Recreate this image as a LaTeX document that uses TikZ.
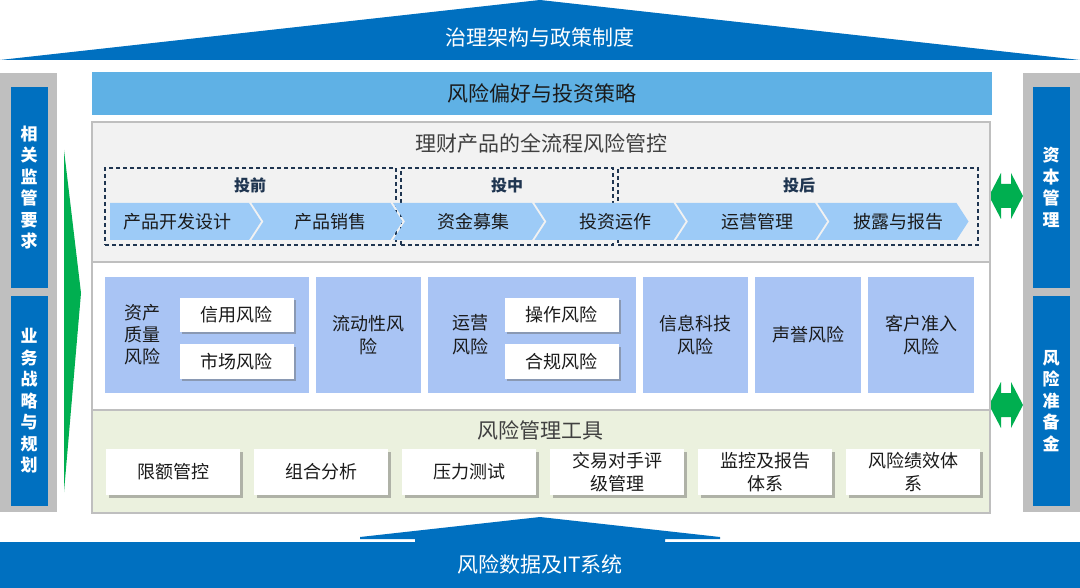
\documentclass[tikz,border=0pt]{standalone}
\usepackage{fontspec}
\setmainfont{Noto Sans CJK SC}
\usetikzlibrary{shadows}
\definecolor{dblue}{HTML}{0070C0}
\definecolor{lblue}{HTML}{5FB1E5}
\definecolor{colgray}{HTML}{BFBFBF}
\definecolor{chev}{HTML}{9DCBF7}
\definecolor{riskc}{HTML}{A9C4F4}
\definecolor{toolbg}{HTML}{EBF1DE}
\definecolor{secbg}{HTML}{F2F2F2}
\definecolor{grn}{HTML}{00AF50}
\definecolor{navy}{HTML}{1F3550}
\definecolor{txtgray}{HTML}{404040}
\definecolor{txtdark}{HTML}{1A1A1A}
\begin{document}
\begin{tikzpicture}[x=1pt,y=-1pt,
  every node/.style={inner sep=0pt,outer sep=0pt},
  bigtext/.style={font=\fontsize{21pt}{25pt}\selectfont},
  colbox/.style={fill=dblue,text=white,align=center,minimum width=37pt,
    font=\fontsize{17pt}{21.5pt}\selectfont\bfseries},
  grayc/.style={fill=colgray,minimum width=57pt,minimum height=439pt},
  dashbox/.style={draw=navy,line width=1.2pt,dash pattern=on 4pt off 3pt,minimum height=77pt},
  phase/.style={font=\fontsize{16pt}{19pt}\selectfont\bfseries,text=navy},
  chevtext/.style={font=\fontsize{18pt}{22pt}\selectfont,text=txtdark},
  riskbox/.style={fill=riskc,minimum height=116pt,text=txtdark,align=center,
    font=\fontsize{18pt}{23pt}\selectfont},
  subbox/.style={fill=white,minimum width=114pt,minimum height=34pt,text=txtdark,
    font=\fontsize{18pt}{22pt}\selectfont,
    drop shadow={shadow xshift=2.5pt,shadow yshift=-2.5pt,fill=black!60,opacity=.45}},
  toolbox/.style={fill=white,minimum width=134pt,minimum height=46pt,text=txtdark,align=center,
    font=\fontsize{18pt}{23pt}\selectfont,
    drop shadow={shadow xshift=2.5pt,shadow yshift=-2.5pt,fill=black!60,opacity=.45}}
]
\useasboundingbox (0,0) rectangle (1080,588);
\fill[white] (0,0) rectangle (1080,588);

% roof
\fill[dblue] (0,60) -- (540,0) -- (1080,60) -- cycle;
\node[bigtext,text=white] (roof) at (540,37) {治理架构与政策制度};

% risk appetite band
\node[fill=lblue,minimum width=900pt,minimum height=43pt,bigtext,text=txtdark] (pref) at (542,93.5) {风险偏好与投资策略};

% left column
\node[grayc] (lcol) at (28.5,292.5) {};
\node[colbox,minimum height=201pt] (req) at (29,187.5) {相\\关\\监\\管\\要\\求};
\node[colbox,minimum height=210pt] (strat) at (29,401) {业\\务\\战\\略\\与\\规\\划};
\fill[grn] (64,150) -- (81,293) -- (64,492) -- cycle;

% right column
\node[grayc] (rcol) at (1051,292.5) {};
\node[colbox,minimum height=201pt] (cap) at (1051,187.5) {资\\本\\管\\理};
\node[colbox,minimum height=210pt] (res) at (1051,401) {风\\险\\准\\备\\金};
\foreach \cy in {196,405}{
  \fill[grn] (989,\cy) -- (1001,{\cy-23}) -- (1001,{\cy-12}) -- (1011,{\cy-12}) -- (1011,{\cy-23})
    -- (1023,\cy) -- (1011,{\cy+23}) -- (1011,{\cy+12}) -- (1001,{\cy+12}) -- (1001,{\cy+23}) -- cycle;
}

% main frame
\fill[secbg] (92,122) rectangle (990,262);
\fill[white] (92,262) rectangle (990,410);
\fill[toolbg] (92,410) rectangle (990,513);
\draw[colgray,line width=1.5pt] (92,262) -- (990,262) (92,410) -- (990,410);
\draw[colgray,line width=2.5pt] (92,122) rectangle (990,513);
\node[bigtext,text=txtgray] (t1) at (541,143) {理财产品的全流程风险管控};

% phases
\node[dashbox,minimum width=291pt] (pre) at (250.5,206.5) {};
\node[dashbox,minimum width=212pt] (mid) at (507,206.5) {};
\node[dashbox,minimum width=360pt] (post) at (798,206.5) {};
\node[phase] (preL) at (250,185) {投前};
\node[phase] (midL) at (507,185) {投中};
\node[phase] (postL) at (799,185) {投后};

% chevrons
\foreach \i in {0,...,5}{
  \pgfmathsetmacro{\L}{110+141.5*\i}
  \pgfmathsetmacro{\R}{\L+139}
  \ifnum\i=0
    \fill[chev] (\L,203) -- (\R,203) -- ({\R+12},221.5) -- (\R,240) -- (\L,240) -- cycle;
  \else
    \fill[chev] (\L,203) -- (\R,203) -- ({\R+12},221.5) -- (\R,240) -- (\L,240) -- ({\L+12},221.5) -- cycle;
  \fi
}
\node[chevtext] (c1) at (177,222) {产品开发设计};
\node[chevtext] (c2) at (330,222) {产品销售};
\node[chevtext] (c3) at (473,222) {资金募集};
\node[chevtext] (c4) at (615,222) {投资运作};
\node[chevtext] (c5) at (757,222) {运营管理};
\node[chevtext] (c6) at (898,222) {披露与报告};

% risks
\node[riskbox,minimum width=204pt] (r1) at (207,335) {};
\node[riskbox,minimum width=105pt] (r2) at (368.5,335) {流动性风\\险};
\node[riskbox,minimum width=208pt] (r3) at (532,335) {};
\node[riskbox,minimum width=105pt] (r4) at (695.5,335) {信息科技\\风险};
\node[riskbox,minimum width=106pt] (r5) at (808,335) {声誉风险};
\node[riskbox,minimum width=106pt] (r6) at (921,335) {客户准入\\风险};
\node[text=txtdark,align=center,font=\fontsize{18pt}{22pt}\selectfont] (r1L) at (142,335) {资产\\质量\\风险};
\node[subbox] (credit) at (236.5,315) {信用风险};
\node[subbox] (market) at (236.5,361.5) {市场风险};
\node[text=txtdark,align=center,font=\fontsize{18pt}{24pt}\selectfont] (r3L) at (470,335) {运营\\风险};
\node[subbox] (oper) at (561.5,315) {操作风险};
\node[subbox] (comp) at (561.5,361.5) {合规风险};

% tools
\node[bigtext,text=txtgray] (t2) at (540,430) {风险管理工具};
\node[toolbox] (k1) at (173,472) {限额管控};
\node[toolbox] (k2) at (321,472) {组合分析};
\node[toolbox] (k3) at (469,472) {压力测试};
\node[toolbox] (k4) at (617,472) {交易对手评\\级管理};
\node[toolbox] (k5) at (765,472) {监控及报告\\体系};
\node[toolbox] (k6) at (913,472) {风险绩效体\\系};

% bottom base
\fill[dblue] (0,542) rectangle (1080,588);
\fill[dblue] (360,537) -- (540,517) -- (720,537) -- (720,539) -- (665,539) -- (665,543)
  -- (415,543) -- (415,539) -- (360,539) -- cycle;
\node[bigtext,text=white] (base) at (540,564) {风险数据及IT系统};
\end{tikzpicture}
\end{document}
